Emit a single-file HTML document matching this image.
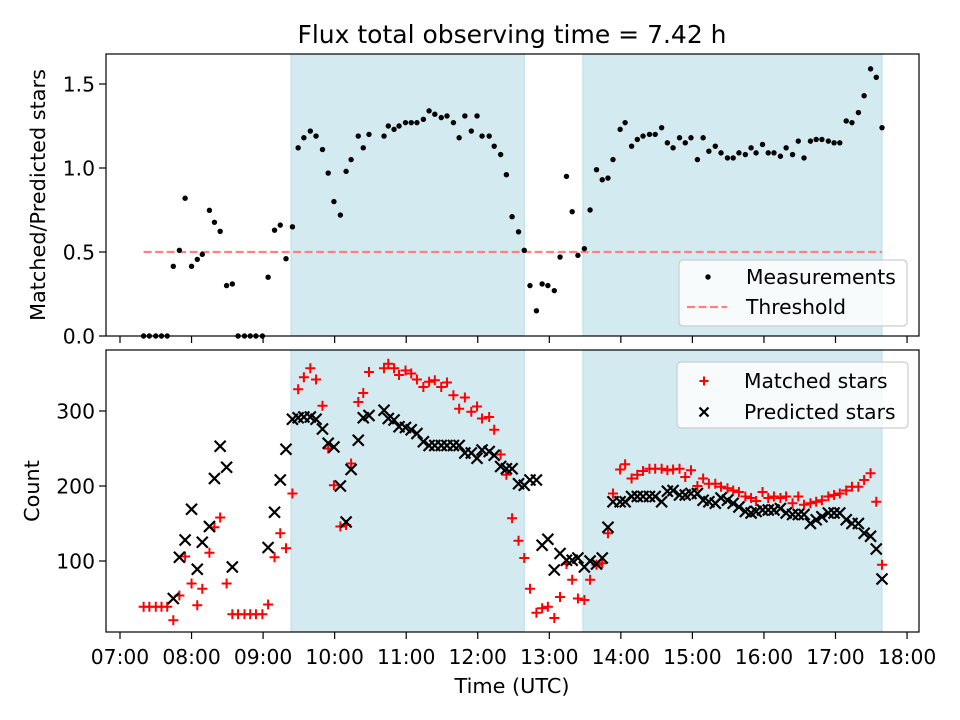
<!DOCTYPE html>
<html><head><meta charset="utf-8"><style>
html,body{margin:0;padding:0;background:#fff;}
svg{display:block;font-family:"DejaVu Sans","Liberation Sans",sans-serif;}
</style></head><body>
<svg id="chart" width="960" height="720" viewBox="0 0 960 720" xmlns="http://www.w3.org/2000/svg">
<rect width="960" height="720" fill="#fff"/>
<text x="512" y="43" font-size="25" text-anchor="middle" fill="#000">Flux total observing time = 7.42 h</text>
<g id="top"></g><g id="bot"></g>
<text transform="translate(45,195) rotate(-90)" font-size="20.8" text-anchor="middle">Matched/Predicted stars</text>
<text transform="translate(39,491) rotate(-90)" font-size="20.8" text-anchor="middle">Count</text>
<text x="512" y="693" font-size="20.8" text-anchor="middle">Time (UTC)</text>
</svg>
<script>
const times=[7.33,7.41,7.50,7.58,7.66,7.745,7.83,7.91,8.00,8.08,8.15,8.25,8.32,8.40,8.49,8.57,8.65,8.74,8.82,8.90,8.99,9.07,9.16,9.24,9.32,9.41,9.49,9.57,9.66,9.74,9.83,9.91,9.99,10.08,10.16,10.23,10.33,10.40,10.48,10.69,10.75,10.83,10.90,10.99,11.07,11.15,11.24,11.32,11.40,11.49,11.57,11.66,11.74,11.82,11.91,11.99,12.06,12.16,12.23,12.32,12.40,12.48,12.57,12.65,12.73,12.82,12.90,12.98,13.07,13.15,13.24,13.32,13.40,13.49,13.57,13.66,13.74,13.82,13.89,13.99,14.06,14.15,14.23,14.31,14.40,14.48,14.57,14.65,14.73,14.82,14.90,14.98,15.07,15.15,15.23,15.32,15.40,15.49,15.57,15.65,15.74,15.82,15.89,15.98,16.06,16.14,16.23,16.31,16.40,16.48,16.56,16.65,16.73,16.81,16.90,16.98,17.06,17.15,17.23,17.32,17.40,17.49,17.57,17.65];
const ratio=[0,0,0,0,0,0.415,0.51,0.82,0.415,0.456,0.486,0.748,0.677,0.623,0.30,0.31,0,0,0,0,0,0.35,0.63,0.66,0.46,0.65,1.12,1.18,1.22,1.19,1.11,0.97,0.80,0.72,0.98,1.05,1.19,1.12,1.20,1.19,1.25,1.23,1.25,1.27,1.27,1.27,1.29,1.34,1.32,1.30,1.31,1.27,1.18,1.31,1.22,1.31,1.19,1.19,1.13,1.08,0.96,0.71,0.62,0.51,0.30,0.15,0.31,0.30,0.27,0.47,0.95,0.74,0.48,0.52,0.75,0.99,0.93,0.94,1.05,1.23,1.27,1.13,1.17,1.19,1.20,1.20,1.24,1.15,1.12,1.18,1.15,1.18,1.05,1.18,1.10,1.13,1.09,1.06,1.06,1.09,1.08,1.12,1.09,1.14,1.09,1.09,1.07,1.12,1.08,1.16,1.06,1.16,1.17,1.17,1.16,1.15,1.15,1.28,1.27,1.33,1.43,1.59,1.54,1.24];
const matched=[39,39,39,39,39,21,54,106,70,41,63,111,145,158,70,29,29,29,29,29,29,42,105,137,117,190,329,345,357,342,307,250,201,146,148,230,312,324,352,357,363,357,348,354,350,342,332,339,341,332,338,321,303,318,299,306,290,292,275,242,215,157,127,104,63,31,37,39,24,52,96,75,50,48,75,95,97,137,190,222,229,210,215,220,223,223,223,221,222,223,212,221,200,210,203,203,199,197,194,192,186,184,180,192,184,186,184,186,177,186,175,177,179,181,186,188,190,194,199,199,208,217,179,95];
const predicted=[null,null,null,null,null,50,105,128,169,89,125,146,210,253,225,92,null,null,null,null,null,118,165,208,249,289,291,292,292,289,276,257,252,200,152,222,261,291,294,301,290,288,279,278,275,270,259,254,254,254,254,254,254,244,244,237,248,246,241,226,223,223,203,201,208,208,121,129,88,110,101,101,104,92,100,96,104,145,179,179,179,186,186,186,186,186,179,193,194,188,188,190,190,181,179,177,184,181,177,172,166,164,166,168,168,168,170,164,162,162,162,150,155,159,164,164,164,155,150,150,137,133,116,76];
const threshold=0.5;
const shadeSpans=[[9.39,12.65],[13.47,17.65]];
const xTickLabels=["07:00","08:00","09:00","10:00","11:00","12:00","13:00","14:00","15:00","16:00","17:00","18:00"];
const ratioTicks=[0,0.5,1.0,1.5];
const countTicks=[100,200,300];

const NS="http://www.w3.org/2000/svg";
const L=106,R=919;
const X=h=>120+(h-7)*71.55;
const YT=v=>336-v*168;
const YB=v=>636-v*0.75;
function mk(tag,attrs,parent){const e=document.createElementNS(NS,tag);for(const k in attrs)e.setAttribute(k,attrs[k]);parent.appendChild(e);return e;}

function panel(g,top,bot,name){
  for(const s of shadeSpans){
    const r=mk('rect',{x:X(s[0]),y:top,width:X(s[1])-X(s[0]),height:bot-top,fill:'#d4eaf1',stroke:'#b9dde8','stroke-width':1},g);
    
    
  }
  xTickLabels.forEach((lab,i)=>{
    const x=X(7+i);
    const t=mk('line',{x1:x,x2:x,y1:bot,y2:bot+7,stroke:'#000','stroke-width':1.2},g);
    
    
    if(name==='bot'){
      const tx=mk('text',{x:x,y:bot+32,'font-size':20.3,'text-anchor':'middle'},g);
      tx.textContent=lab;
      
      
    }
  });
}
const gt=document.getElementById('top'), gb=document.getElementById('bot');
panel(gt,54,336,'top');
panel(gb,350,632,'bot');

ratioTicks.forEach(v=>{
  const y=YT(v);
  mk('line',{x1:L-7,x2:L,y1:y,y2:y,stroke:'#000','stroke-width':1.2},gt);
  const t=mk('text',{x:L-11,y:y+7.5,'font-size':20.3,'text-anchor':'end'},gt);
  t.textContent=v.toFixed(1);
  
  
});
countTicks.forEach(v=>{
  const y=YB(v);
  mk('line',{x1:L-7,x2:L,y1:y,y2:y,stroke:'#000','stroke-width':1.2},gb);
  const t=mk('text',{x:L-11,y:y+7.5,'font-size':20.3,'text-anchor':'end'},gb);
  t.textContent=String(v);
  
  
});

const th=mk('line',{x1:X(times[0]),x2:X(times[times.length-1]),y1:YT(threshold),y2:YT(threshold),stroke:'#ff8080','stroke-width':2.2,'stroke-dasharray':'8,3.5'},gt);



times.forEach((t,i)=>{
  const c=mk('circle',{cx:X(t),cy:YT(ratio[i]),r:2.7,fill:'#000'},gt);
  
  
});
function plus(g,x,y,col,s){s=s||5;return mk('path',{d:`M${x-s},${y}H${x+s}M${x},${y-s}V${y+s}`,stroke:col,'stroke-width':2,fill:'none'},g);}
function cross(g,x,y,col,s){s=s||5.5;return mk('path',{d:`M${x-s},${y-s}L${x+s},${y+s}M${x-s},${y+s}L${x+s},${y-s}`,stroke:col,'stroke-width':2.2,fill:'none'},g);}
times.forEach((t,i)=>{
  if(matched[i]!=null){
    const p=plus(gb,X(t),YB(matched[i]),'#ff0000');
    
    
  }
});
times.forEach((t,i)=>{
  if(predicted[i]!=null){
    const p=cross(gb,X(t),YB(predicted[i]),'#000');
    
    
  }
});
mk('rect',{x:L,y:54,width:R-L,height:282,fill:'none',stroke:'#000','stroke-width':1.2},gt);
mk('rect',{x:L,y:350,width:R-L,height:282,fill:'none',stroke:'#000','stroke-width':1.2},gb);

function legend(g,x,y,w,h,rows,items,name){
  const box=mk('rect',{x:x,y:y,width:w,height:h,rx:4,fill:'#fff','fill-opacity':0.8,stroke:'#cccccc','stroke-width':1.2},g);
  
  
  items.forEach((it,k)=>{
    const cy=rows[k];
    if(it.type==='dot') mk('circle',{cx:x+29,cy:cy,r:2.7,fill:'#000'},g);
    if(it.type==='dash') mk('line',{x1:x+8,x2:x+48,y1:cy,y2:cy,stroke:'#ff8080','stroke-width':2.2,'stroke-dasharray':'8,3.5'},g);
    if(it.type==='plus') plus(g,x+27,cy,'#ff0000',4.5);
    if(it.type==='cross') cross(g,x+27,cy,'#000',4.5);
    const t=mk('text',{x:x+67,y:cy+7,'font-size':20.3},g);
    t.textContent=it.label;
    
    
  });
}
legend(gt,679,260,228,66,[277,307],[{type:'dot',label:'Measurements'},{type:'dash',label:'Threshold'}],'ratio-legend');
legend(gb,677,362,231,66,[381,412],[{type:'plus',label:'Matched stars'},{type:'cross',label:'Predicted stars'}],'count-legend');
</script>
</body></html>
